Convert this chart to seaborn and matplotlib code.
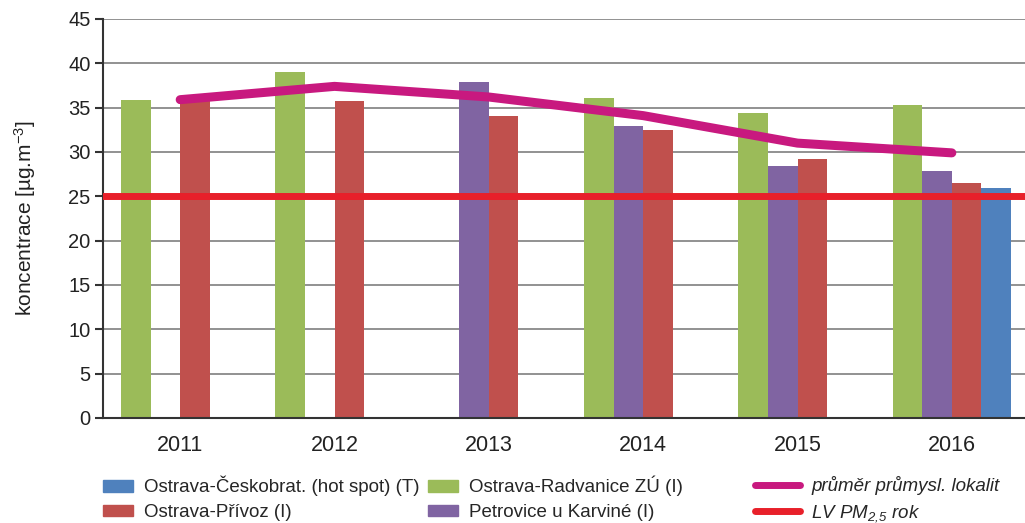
import numpy as np
import pandas as pd
import seaborn as sns
import matplotlib.pyplot as plt
from matplotlib.patches import Patch
from matplotlib.lines import Line2D

years = ["2011", "2012", "2013", "2014", "2015", "2016"]
stations = ["Ostrava-Radvanice ZÚ (I)", "Petrovice u Karviné (I)",
            "Ostrava-Přívoz (I)", "Ostrava-Českobrat. (hot spot) (T)"]
radvanice = [35.9, 39.0, np.nan, 36.1, 34.4, 35.3]
petrovice = [np.nan, np.nan, 37.9, 32.9, 28.4, 27.9]
privoz = [35.8, 35.7, 34.1, 32.5, 29.2, 26.5]
ceskobrat = [np.nan, np.nan, np.nan, np.nan, np.nan, 25.9]
prumer = [35.9, 37.4, 36.2, 34.1, 31.0, 29.9]
limit_value = 25

colors = {"Ostrava-Radvanice ZÚ (I)": "#9BBB59",
          "Petrovice u Karviné (I)": "#8064A2",
          "Ostrava-Přívoz (I)": "#C0504D",
          "Ostrava-Českobrat. (hot spot) (T)": "#4F81BD"}
mean_color = "#C8197F"
lv_color = "#E8202A"

rows = []
for name, vals in zip(stations, [radvanice, petrovice, privoz, ceskobrat]):
    for y, v in zip(years, vals):
        rows.append({"rok": y, "stanice": name, "hodnota": v})
df = pd.DataFrame(rows).dropna()

sns.set_style("white")
plt.rcParams["font.family"] = ["Liberation Sans", "DejaVu Sans"]
plt.rcParams["mathtext.default"] = "regular"

fig = plt.figure(figsize=(10.25, 5.23), dpi=100)
ax = fig.add_axes([0.1005, 0.2008, 0.9034, 0.7629])

sns.barplot(data=df, x="rok", y="hodnota", hue="stanice", order=years,
            hue_order=stations, palette=colors, width=0.765, gap=0,
            errorbar=None, linewidth=0, saturation=1, legend=False, ax=ax)

ax.axhline(limit_value, color=lv_color, lw=5, zorder=5)
ax.plot(np.arange(len(years)), prumer, color=mean_color, lw=6.5,
        solid_capstyle="round", solid_joinstyle="round", zorder=6)

ax.set_xlim(-0.5, len(years) - 0.5)
ax.set_ylim(0, 45)
ax.set_yticks(np.arange(0, 46, 5))
ax.set_axisbelow(True)
ax.yaxis.grid(True, color="#7f7f7f", lw=1.2)
ax.xaxis.grid(False)
for s in ["top", "right"]:
    ax.spines[s].set_visible(False)
for s in ["left", "bottom"]:
    ax.spines[s].set_color("#333333")
    ax.spines[s].set_linewidth(1.5)

ax.set_xticks(np.arange(len(years)))
ax.set_xticklabels(years)
ax.set_xticks(np.arange(-0.5, len(years)), minor=True)
ax.tick_params(axis="x", which="major", length=0, pad=12, labelsize=15.5, labelcolor="#222222")
ax.tick_params(axis="x", which="minor", length=7, width=1.5, color="#333333", direction="out")
ax.tick_params(axis="y", length=6, width=1.5, color="#333333", direction="out",
               left=True, labelsize=14.5, labelcolor="#222222", pad=3)
ax.set_xlabel("")
ax.set_ylabel("koncentrace [µg.m$^{-3}$]", fontsize=15, color="#222222", labelpad=22)

# legend in three separate columns, like the original
leg_font = {"size": 13.5}
cols = [
    ([Patch(color=colors[stations[3]]), Patch(color=colors[stations[2]])],
     [stations[3], stations[2]], 103, 1.6, False),
    ([Patch(color=colors[stations[0]]), Patch(color=colors[stations[1]])],
     [stations[0], stations[1]], 428, 1.6, False),
    ([Line2D([], [], color=mean_color, lw=5), Line2D([], [], color=lv_color, lw=5)],
     ["průměr průmysl. lokalit", "LV PM$_{2{,}5}$ rok"], 755, 2.4, True),
]
for h, l, x0, hl, italic in cols:
    leg = fig.legend(h, l, loc="upper left", bbox_to_anchor=(x0 / 1025, 1 - 476 / 523),
                     frameon=False, prop=leg_font, handlelength=hl, handleheight=0.55,
                     handletextpad=0.6, labelspacing=0.42, borderpad=0, borderaxespad=0)
    if italic:
        for t in leg.get_texts():
            t.set_style("italic")

fig.savefig("out.png", dpi=100)
